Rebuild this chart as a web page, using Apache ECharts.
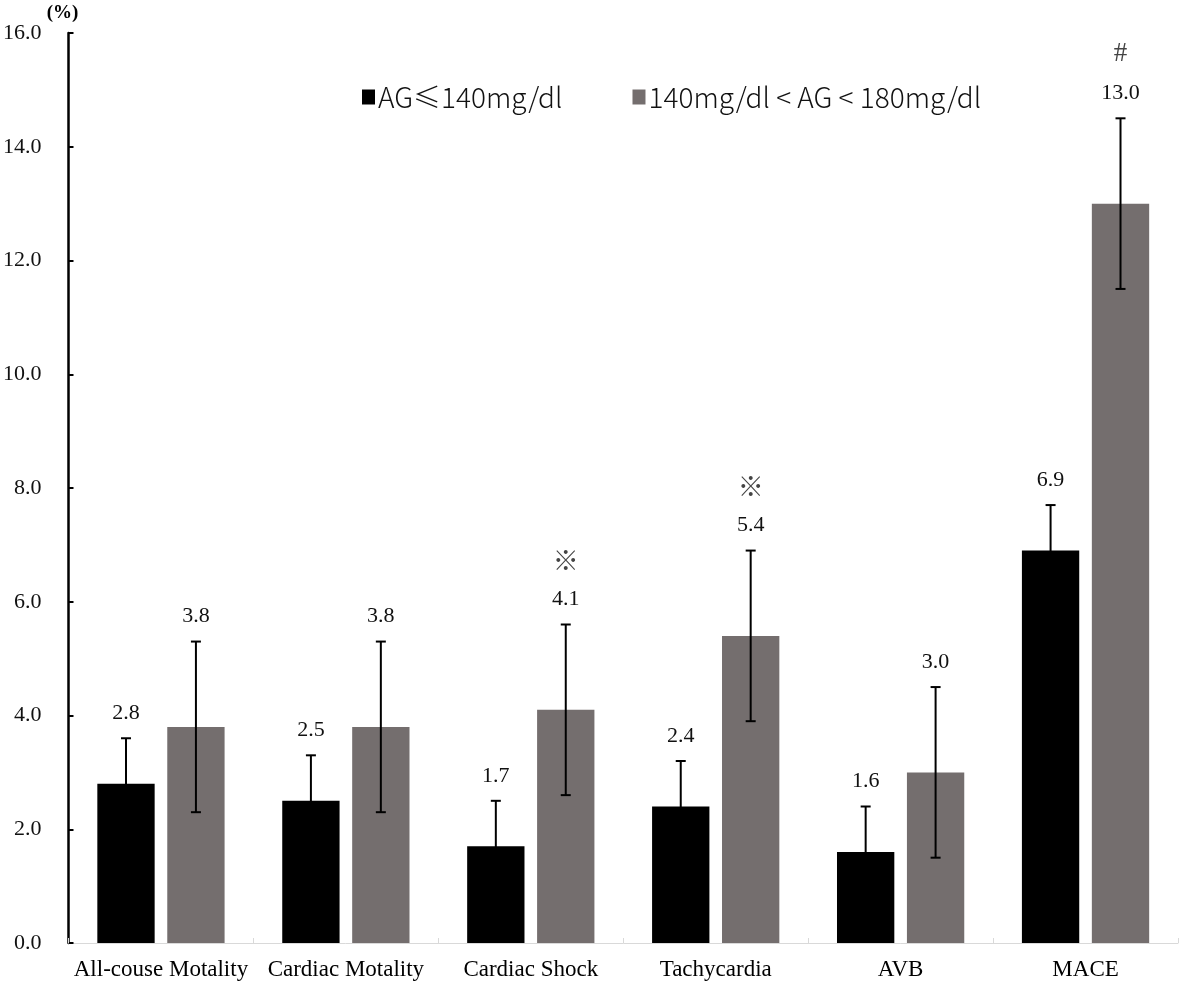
<!DOCTYPE html>
<html><head><meta charset="utf-8">
<script src="https://cdn.jsdelivr.net/npm/echarts@6/dist/echarts.min.js"></script>
<style>html,body{margin:0;padding:0;background:#fff}#c{width:1181px;height:988px}</style>
</head><body><div id="c"></div>
<script>
const categories = ['All-couse Motality', 'Cardiac Motality', 'Cardiac Shock', 'Tachycardia', 'AVB', 'MACE'];
const seriesNames = ['AG≤140mg/dl', '140mg/dl < AG < 180mg/dl'];
const lowValues = [2.8, 2.5, 1.7, 2.4, 1.6, 6.9];
const lowErrLower = [2.0, 1.7, 0.9, 1.6, 0.8, 6.1];
const lowErrUpper = [3.6, 3.3, 2.5, 3.2, 2.4, 7.7];
const lowMarks = ['', '', '', '', '', ''];
const midValues = [3.8, 3.8, 4.1, 5.4, 3.0, 13.0];
const midErrLower = [2.3, 2.3, 2.6, 3.9, 1.5, 11.5];
const midErrUpper = [5.3, 5.3, 5.6, 6.9, 4.5, 14.5];
const midMarks = ['', '', '※', '※', '', '#'];
const yMin = 0, yMax = 16, yInterval = 2;

const BAR_W = 0.31, BAR_GAP = 0.22;
const SERIF = '"Liberation Serif", "Times New Roman", serif';

function errRender(side, values, lows, highs, marks) {
  return function (params, api) {
    const i = params.dataIndex;
    const band = api.size([1, 0])[0];
    const bw = band * BAR_W, gap = bw * BAR_GAP;
    const cx = api.coord([i, highs[i]]);
    const x = cx[0] + side * (gap / 2 + bw / 2);
    const yHi = cx[1];
    const yLo = api.coord([i, lows[i]])[1];
    const cap = 5;
    const ls = { stroke: '#000', lineWidth: 2 };
    const children = [
      { type: 'line', shape: { x1: x, y1: yLo, x2: x, y2: yHi }, style: ls },
      { type: 'line', shape: { x1: x - cap, y1: yHi, x2: x + cap, y2: yHi }, style: ls },
      { type: 'line', shape: { x1: x - cap, y1: yLo, x2: x + cap, y2: yLo }, style: ls },
      { type: 'text', style: { text: values[i].toFixed(1), x: x, y: yHi - 25, align: 'center', verticalAlign: 'middle', fontSize: 22, fontFamily: SERIF, fill: '#111' } }
    ];
    if (marks[i]) {
      const isHash = marks[i] === '#';
      children.push({ type: 'text', style: { text: marks[i], x: x, y: yHi - 64, align: 'center', verticalAlign: 'middle', fontSize: isHash ? 27 : 26, fontFamily: isHash ? SERIF : '"Noto Sans CJK SC"', fill: '#444' } });
    }
    return { type: 'group', children: children };
  };
}

const chart = echarts.init(document.getElementById('c'), null, { renderer: 'canvas' });
chart.setOption({
  backgroundColor: '#fff',
  animation: false,
  grid: { left: 68, right: 3, top: 33, bottom: 45, containLabel: false },
  legend: {
    left: 357, top: 78, itemGap: 70, itemWidth: 13, itemHeight: 15,
    icon: 'rect',
    textStyle: { fontSize: 28, fontFamily: '"Noto Sans CJK SC", "Noto Sans", sans-serif', fontWeight: 300, color: '#111', padding: [0, 0, 0, -2] },
    data: seriesNames
  },
  xAxis: {
    type: 'category', data: categories, boundaryGap: true,
    axisLine: { show: true, lineStyle: { color: '#d9d9d9', width: 1 } },
    axisTick: { show: true, inside: true, length: 5, lineStyle: { color: '#d9d9d9' } },
    axisLabel: { interval: 0, margin: 15, fontSize: 23, fontFamily: SERIF, color: '#000' }
  },
  yAxis: {
    type: 'value', min: yMin, max: yMax, interval: yInterval,
    name: '(%)', nameLocation: 'end', nameGap: 6,
    nameTextStyle: { fontFamily: SERIF, fontWeight: 'bold', fontSize: 19, color: '#000', padding: [0, 12, 0, 0] },
    axisLine: { show: true, lineStyle: { color: '#000', width: 2.5 } },
    axisTick: { show: true, inside: true, length: 5, lineStyle: { color: '#000', width: 2 } },
    splitLine: { show: false },
    axisLabel: { margin: 27, fontSize: 22, fontFamily: SERIF, color: '#111', formatter: v => v.toFixed(1) }
  },
  series: [
    { name: seriesNames[0], type: 'bar', data: lowValues, barWidth: (BAR_W * 100) + '%', barGap: (BAR_GAP * 100) + '%', itemStyle: { color: '#000' } },
    { name: seriesNames[1], type: 'bar', data: midValues, barWidth: (BAR_W * 100) + '%', barGap: (BAR_GAP * 100) + '%', itemStyle: { color: '#746e6e' } },
    { type: 'custom', name: 'err0', data: lowValues.map((v, i) => [i, v]), renderItem: errRender(-1, lowValues, lowErrLower, lowErrUpper, lowMarks), z: 5, silent: true },
    { type: 'custom', name: 'err1', data: midValues.map((v, i) => [i, v]), renderItem: errRender(1, midValues, midErrLower, midErrUpper, midMarks), z: 5, silent: true }
  ]
});
</script></body></html>
